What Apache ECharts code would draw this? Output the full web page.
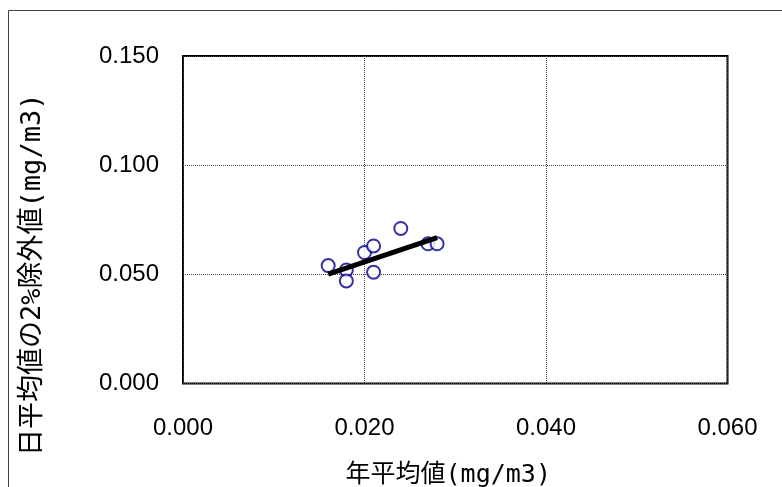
<!DOCTYPE html>
<html>
<head>
<meta charset="utf-8">
<script src="https://cdn.jsdelivr.net/npm/echarts@6/dist/echarts.min.js"></script>
<style>
html,body{margin:0;padding:0;background:#fff;}
#chart{width:782px;height:487px;}
</style>
</head>
<body>
<div id="chart"></div>
<script>
// Data
const xValues = [0.016, 0.018, 0.018, 0.020, 0.021, 0.021, 0.024, 0.027, 0.028];
const yValues = [0.054, 0.052, 0.047, 0.060, 0.063, 0.051, 0.071, 0.064, 0.064];
const trendX = [0.016, 0.028];
const trendY = [0.0501, 0.0668];
const xTitle = '年平均値(mg/m3)';
const yTitle = '日平均値の2%除外値(mg/m3)';
const xTicks = { min: 0, max: 0.06, interval: 0.02 };
const yTicks = { min: 0, max: 0.15, interval: 0.05 };

const points = xValues.map((x, i) => [x, yValues[i]]);
const trend = trendX.map((x, i) => [x, trendY[i]]);

const chart = echarts.init(document.getElementById('chart'), null, { renderer: 'canvas' });
const numFont = '"Liberation Sans", Arial, sans-serif';
const jpFont = '"DejaVu Sans Mono", "Noto Sans CJK JP", sans-serif';

chart.setOption({
  backgroundColor: '#fff',
  animation: false,
  graphic: [{
    type: 'rect',
    shape: { x: 8.5, y: 10.5, width: 800, height: 500 },
    style: { fill: 'none', stroke: '#404040', lineWidth: 1 },
    silent: true
  }],
  grid: {
    left: 183, top: 56, right: 54.5, bottom: 103.5,
    outerBoundsMode: 'none',
    containLabel: false,
    show: true, borderColor: '#000', borderWidth: 2, backgroundColor: 'transparent'
  },
  xAxis: {
    type: 'value',
    min: xTicks.min, max: xTicks.max, interval: xTicks.interval,
    name: xTitle,
    nameLocation: 'middle',
    nameGap: 79,
    nameTextStyle: { fontFamily: jpFont, fontSize: 25, color: '#000', padding: [0, 14, 0, 0] },
    axisLine: { show: false },
    axisTick: { show: false },
    axisLabel: {
      margin: 33, fontSize: 24, fontFamily: numFont, color: '#000',
      formatter: v => v.toFixed(3)
    },
    splitLine: { show: true, lineStyle: { type: 'dotted', color: '#444', width: 1 } }
  },
  yAxis: {
    type: 'value',
    min: yTicks.min, max: yTicks.max, interval: yTicks.interval,
    name: yTitle,
    nameLocation: 'middle',
    nameGap: 137,
    nameRotate: 90,
    nameTextStyle: { fontFamily: jpFont, fontSize: 27, color: '#000', padding: [0, 110, 0, 0] },
    axisLine: { show: false },
    axisTick: { show: false },
    axisLabel: {
      margin: 24, fontSize: 24, fontFamily: numFont, color: '#000',
      formatter: v => v.toFixed(3)
    },
    splitLine: { show: true, lineStyle: { type: 'dotted', color: '#444', width: 1 } }
  },
  series: [
    {
      type: 'scatter',
      data: points,
      symbol: 'circle',
      symbolSize: 13,
      itemStyle: { color: '#fff', borderColor: '#000090', borderWidth: 2 },
      z: 2
    },
    {
      type: 'line',
      data: trend,
      showSymbol: false,
      symbol: 'none',
      lineStyle: { color: '#000', width: 5 },
      z: 3
    }
  ]
});
</script>
</body>
</html>
